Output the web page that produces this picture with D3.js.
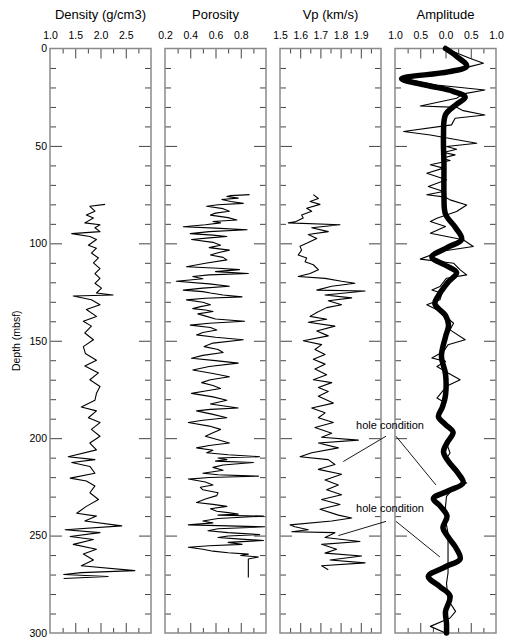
<!DOCTYPE html>
<html>
<head>
<meta charset="utf-8">
<title>Downhole logs and amplitude</title>
<script src="https://d3js.org/d3.v7.min.js"></script>
<style>
body { margin: 0; background: #fff; }
svg { display: block; font-family: "Liberation Sans", Arial, Helvetica, sans-serif; }
.frame { fill: none; stroke: #8a8a8a; stroke-width: 1.5; }
.ticks line { stroke: #444; stroke-width: 1; }
.log { fill: none; stroke: #000; stroke-width: 1.1; stroke-linejoin: round; }
.title { font-size: 13px; text-anchor: middle; }
.lbl text { font-size: 10.5px; fill: #000; }
</style>
</head>
<body>
<svg width="508" height="644"></svg>
<script>
// ---- data ----
var densityDepth = [80,81,83.5,85.5,87,89.5,90.5,92,94,95,96.5,98,101,102.5,105,107.5,110,113,115.5,118,120.5,123,125.5,126.5,127,129,131.5,134,137.5,140,142.5,146,149.5,153,156.5,160,163,166.5,170,173.5,177,180.5,184,186,189.5,192,195.5,199,202.5,206,209.5,211,212.5,214.5,218,220.5,222,224.5,228,231.5,235,238.5,240,242.5,245,247,248.5,250.5,252,254.5,257,259.5,262.5,265.5,268,269,270,271,272];
var densityValue = [2.09,1.79,1.89,1.72,1.86,1.69,1.99,1.89,1.99,1.43,1.79,1.92,1.76,1.92,1.82,1.96,1.86,1.99,1.89,1.99,1.89,2.02,1.92,2.25,1.46,1.82,1.99,1.72,1.92,1.66,1.82,1.69,1.86,1.66,1.70,1.92,1.69,1.96,1.79,1.99,1.92,1.89,1.62,1.92,1.76,1.99,1.82,1.99,1.79,1.92,1.36,1.89,1.43,1.79,1.89,1.40,1.72,1.89,1.79,1.96,1.72,1.53,1.92,1.69,2.42,1.30,1.99,1.40,1.86,1.46,1.92,1.66,1.86,1.62,2.68,1.62,1.27,2.15,1.27];

var porosityDepth = [75,75.5,76,76.8,77.5,78.5,79.5,80.2,81,82.2,83.5,84.5,85.5,86.8,88,88.8,89.5,90.5,91.5,92.2,93,94,95,95.8,96.5,97.2,98,99.5,101,102.2,103.5,104.8,106,107.2,108.5,110.2,112,112.8,113.5,114.5,115.5,116.2,117,118.2,119.5,120.8,122,123,124,124.8,125.5,126.5,127.5,128.2,129,130.2,131.5,132.5,133.5,134.2,135,136.2,137.5,138.8,140,141,142,143.2,144.5,145.8,147,148.2,149.5,151.2,153,154.5,156,157.5,159,160.2,161.5,163.2,165,166.8,168.5,170,171.5,173,174.5,175.8,177,178.8,180.5,182.5,184.5,185.2,186,187.8,189.5,190.8,192,193.8,195.5,197.2,199,200.8,202.5,203.8,205,206.2,207.5,208.5,209.5,210.2,211,211.8,212.5,213.8,215,216.5,218,218.8,219.5,220.2,221,222.5,224,225.2,226.5,228,229.5,231.2,233,234,235,236.2,237.5,238.2,239,239.5,240,241.2,242.5,243.5,244.5,245,245.5,246.5,247.5,248.5,249.5,250.2,251,251.8,252.5,253.5,254.5,255.2,256,257,258,258.8,259.5,260.2,261,262,271.5];
var porosityValue = [0.87,0.72,0.69,0.78,0.65,0.72,0.82,0.62,0.53,0.66,0.71,0.60,0.56,0.70,0.77,0.58,0.64,0.52,0.345,0.60,0.85,0.55,0.40,0.58,0.69,0.55,0.41,0.58,0.64,0.55,0.71,0.62,0.56,0.66,0.69,0.52,0.37,0.62,0.79,0.60,0.86,0.55,0.42,0.50,0.29,0.55,0.71,0.50,0.345,0.50,0.56,0.66,0.81,0.52,0.37,0.50,0.56,0.48,0.42,0.52,0.58,0.46,0.53,0.60,0.83,0.55,0.40,0.56,0.61,0.50,0.45,0.60,0.82,0.58,0.51,0.62,0.66,0.50,0.41,0.60,0.78,0.55,0.42,0.58,0.71,0.56,0.49,0.58,0.64,0.52,0.41,0.58,0.69,0.56,0.78,0.56,0.45,0.58,0.69,0.50,0.385,0.55,0.64,0.58,0.52,0.62,0.71,0.55,0.45,0.58,0.53,0.70,0.95,0.62,0.69,0.60,0.90,0.66,0.58,0.66,0.50,0.62,0.94,0.55,0.385,0.52,0.58,0.48,0.50,0.62,0.61,0.52,0.45,0.58,0.69,0.56,0.61,0.70,0.78,0.62,0.98,0.62,0.50,0.58,0.385,0.70,0.99,0.62,0.54,0.70,0.95,0.70,0.62,0.80,0.98,0.70,0.81,0.55,0.385,0.50,0.58,0.70,0.86,0.80,0.94,0.86,0.86];

var vpDepth = [75,77,78.5,80,82,83.5,85.5,87,89,89.5,90.5,92,94,95.5,97.5,100,101.5,103.5,106,107.5,109.5,111,113.5,115.5,117,118,119.5,120.5,122,124,124.5,126.5,128,129.5,131.5,133,135.5,137.5,139,140.5,142.5,145,147.5,150,152,154.5,157,159.5,162,164.5,167.5,170,171.5,174,176,178.5,182,184.5,187,189.5,192,194.5,197.5,199.5,201,202.5,205,207.5,209.5,211,213.5,216,218.5,221.5,224,226.5,229,231.5,234,236.5,239.5,241,242.5,244.5,245.5,247,248,248.5,251,253,254.5,257,259,260.5,262.5,264,265.5,267.5];
var vpValue = [1.665,1.69,1.649,1.698,1.632,1.657,1.607,1.615,1.574,1.541,1.797,1.657,1.739,1.64,1.682,1.632,1.599,1.607,1.59,1.632,1.624,1.665,1.69,1.649,1.59,1.723,1.805,1.871,1.756,1.682,1.921,1.723,1.855,1.739,1.805,1.731,1.682,1.649,1.731,1.64,1.772,1.682,1.739,1.615,1.706,1.673,1.723,1.665,1.723,1.673,1.731,1.665,1.756,1.69,1.739,1.69,1.764,1.657,1.723,1.69,1.764,1.673,1.756,1.706,1.888,1.69,1.789,1.657,1.599,1.739,1.772,1.69,1.805,1.723,1.789,1.731,1.805,1.706,1.797,1.698,1.789,1.855,1.756,1.55,1.574,1.64,1.558,1.772,1.723,1.896,1.706,1.78,1.723,1.904,1.748,1.921,1.706,1.739];

// measured amplitude (thin) and synthetic (thick)
var ampDepth = [0,5,7.6,9.3,11,15.3,18.7,21.3,23.3,25.5,29.5,30.2,31.9,34.1,35.8,39.2,42.6,44.4,48.6,50.3,51.7,53.4,54.6,56.3,57.5,59.7,61.4,64,67.4,70.8,73.4,75.1,76.3,77.7,80.3,83.7,87.1,88.8,91.4,94.8,98.2,101.6,104.2,108.1,110.2,113.6,116.2,117.9,122.2,123.9,125.6,129,131.5,134.1,137.5,141,144.4,149.5,152.1,155.5,158.9,160.6,163.2,166.6,170,173.4,179.4,182,185.4,188.8,193.1,197.4,202.5,207.6,211,216.2,221.3,223,224.7,229.9,235,241.9,248.7,258.9,269.2,274.4,282.9,288.9,292.3,296.6,300];
var ampValue = [0,0.48,0.75,0.48,0.32,-0.87,-0.18,0.78,0.35,0.22,-0.5,0.22,0.35,0.78,0.19,0.12,-0.83,-0.30,0.62,0.02,0.22,-0.04,0.19,-0.07,0.09,-0.30,-0.04,-0.37,0.02,-0.34,-0.04,-0.37,0,0.09,0.42,0.22,-0.17,-0.30,0,-0.30,0.35,0.55,-0.11,-0.5,0.16,0.29,0.42,0.02,-0.11,-0.27,-0.07,-0.11,-0.37,-0.17,0,0.16,0.09,0.39,0.05,-0.04,-0.27,0,-0.17,0.05,0.29,0.02,-0.17,0,-0.07,-0.14,0,0.16,0.02,0.09,0,0.16,0.29,0.42,0.19,0.02,0,0,0.05,0.05,0.05,0.02,0.05,0.2,0.09,-0.3,0];

var synthDepth = [0,4,9,12,15.5,19,22,25,29,34,45,60,75,85,92,98,102,107,111,115,120,126,131,137,142,148,158,167,178,184,189,193,197,202,207,212,218,223,227,231,235,240,246,251,256,262,266,271,276,281,289,295,300];
var synthValue = [0,0.22,0.42,0.05,-0.87,-0.35,0.15,0.39,0.2,0,-0.04,-0.03,-0.03,0,0.2,0.32,0.05,-0.27,-0.02,0.22,0.05,-0.12,-0.21,0,0.06,0,-0.08,0,0,-0.06,-0.14,0,0.15,0.04,-0.04,0.06,0.25,0.35,0.06,-0.24,-0.1,0.03,-0.05,0.06,0.2,0.29,0,-0.34,-0.12,0.09,0,0.02,0.02];

var depthLabels = [0, 50, 100, 150, 200, 250, 300];
var densityLabels = [1.0, 1.5, 2.0, 2.5];
var porosityLabels = [0.2, 0.4, 0.6, 0.8];
var vpLabels = [1.5, 1.6, 1.7, 1.8, 1.9];
var ampLabels = [-1, -0.5, 0, 0.5, 1];

// "hole condition" notes: where the leaders point (value, depth) in Vp and amplitude panels
var notes = [
  {text: "hole condition", depth: 195.5, from: 199,   vp: [1.813, 212], amp: [-0.19, 224]},
  {text: "hole condition", depth: 238,   from: 242.7, vp: [1.789, 250], amp: [-0.11, 261]}
];

var svg = d3.select("svg");
var yTop = 48.5, yBot = 633;

var y = d3.scaleLinear().domain([0, 300]).range([yTop, yBot]);

var panels = [
  {title: "Density (g/cm3)", x0: 50,  x1: 151, domain: [1, 3],    step: 0.25, labels: densityLabels,  fmt: d3.format(".1f")},
  {title: "Porosity",        x0: 165, x1: 266, domain: [0.2, 1],  step: 0.1,  labels: porosityLabels, fmt: d3.format(".1f")},
  {title: "Vp (km/s)",       x0: 280, x1: 381, domain: [1.5, 2],  step: 0.05, labels: vpLabels,       fmt: d3.format(".1f")},
  {title: "Amplitude",       x0: 395, x1: 496, domain: [-1, 1],   step: 0.25, labels: ampLabels,      fmt: function(d) { return d3.format(".1f")(Math.abs(d)); }}
];
panels.forEach(function(p) {
  p.x = d3.scaleLinear().domain(p.domain).range([p.x0, p.x1]);
});

var depthMinor = d3.range(10, 300, 10).filter(function(d) { return d % 50 != 0; });
var depthMajor = [50, 100, 150, 200, 250];

function ticks(g, axis, values, size) {
  g.attr("class", "ticks")
    .call(axis.tickValues(values).tickSize(size).tickFormat(""))
    .call(function(s) { s.select(".domain").remove(); });
}

panels.forEach(function(p) {
  var n = Math.round((p.domain[1] - p.domain[0]) / p.step);
  var inner = d3.range(1, n).map(function(i) { return +(p.domain[0] + i * p.step).toFixed(3); });
  var major = inner.filter(function(v) { return p.labels.some(function(l) { return Math.abs(l - v) < 1e-6; }); });
  var minor = inner.filter(function(v) { return major.indexOf(v) < 0; });

  // depth ticks on both sides, pointing in
  ticks(svg.append("g").attr("transform", "translate(" + p.x0 + ",0)"), d3.axisRight(y), depthMinor, 6);
  ticks(svg.append("g").attr("transform", "translate(" + p.x0 + ",0)"), d3.axisRight(y), depthMajor, 12);
  ticks(svg.append("g").attr("transform", "translate(" + p.x1 + ",0)"), d3.axisLeft(y), depthMinor, 6);
  ticks(svg.append("g").attr("transform", "translate(" + p.x1 + ",0)"), d3.axisLeft(y), depthMajor, 12);

  // value ticks top and bottom
  ticks(svg.append("g").attr("transform", "translate(0," + yTop + ")"), d3.axisBottom(p.x), minor, 5);
  ticks(svg.append("g").attr("transform", "translate(0," + yTop + ")"), d3.axisBottom(p.x), major, 10);
  ticks(svg.append("g").attr("transform", "translate(0," + yBot + ")"), d3.axisTop(p.x), minor, 5);
  ticks(svg.append("g").attr("transform", "translate(0," + yBot + ")"), d3.axisTop(p.x), major, 10);

  // value labels
  var lab = svg.append("g").attr("class", "lbl")
    .attr("transform", "translate(0," + yTop + ")")
    .call(d3.axisTop(p.x).tickValues(p.labels).tickSize(0).tickPadding(10).tickFormat(p.fmt));
  lab.select(".domain").remove();
  lab.attr("font-size", null).attr("font-family", null);

  svg.append("rect").attr("class", "frame")
    .attr("x", p.x0).attr("y", yTop)
    .attr("width", p.x1 - p.x0).attr("height", yBot - yTop);

  svg.append("text").attr("class", "title")
    .attr("x", (p.x0 + p.x1) / 2).attr("y", 19)
    .text(p.title);
});

// depth labels
var dl = svg.append("g").attr("class", "lbl")
  .attr("transform", "translate(" + panels[0].x0 + ",0)")
  .call(d3.axisLeft(y).tickValues(depthLabels).tickSize(0).tickPadding(3));
dl.select(".domain").remove();
dl.attr("font-size", null).attr("font-family", null);

svg.append("text")
  .attr("transform", "translate(20," + y(150) + ") rotate(-90)")
  .attr("text-anchor", "middle")
  .attr("font-size", "10.5px")
  .text("Depth (mbsf)");

function logLine(p, depths, values) {
  return d3.line()
    .x(function(d, i) { return p.x(values[i]); })
    .y(function(d) { return y(d); })(depths);
}

svg.append("path").attr("class", "log").attr("d", logLine(panels[0], densityDepth, densityValue));
svg.append("path").attr("class", "log").attr("d", logLine(panels[1], porosityDepth, porosityValue));
svg.append("path").attr("class", "log").attr("d", logLine(panels[2], vpDepth, vpValue));
svg.append("path").attr("class", "log").attr("stroke-width", 0.8).attr("d", logLine(panels[3], ampDepth, ampValue));

var amp = panels[3];
svg.append("path")
  .attr("fill", "none").attr("stroke", "#000").attr("stroke-width", 5.5).attr("stroke-linecap", "round")
  .attr("d", d3.line()
    .curve(d3.curveCatmullRom)
    .x(function(d, i) { return amp.x(synthValue[i]); })
    .y(function(d) { return y(d); })(synthDepth));

// annotations
var gapX = (panels[2].x1 + panels[3].x0) / 2;
notes.forEach(function(n) {
  svg.append("line")
    .attr("x1", gapX - 2).attr("y1", y(n.from))
    .attr("x2", panels[2].x(n.vp[0])).attr("y2", y(n.vp[1]))
    .attr("stroke", "#000").attr("stroke-width", 0.9);
  svg.append("line")
    .attr("x1", gapX + 8).attr("y1", y(n.from))
    .attr("x2", amp.x(n.amp[0])).attr("y2", y(n.amp[1]))
    .attr("stroke", "#000").attr("stroke-width", 0.9);
  svg.append("text")
    .attr("x", gapX + 2).attr("y", y(n.depth))
    .attr("text-anchor", "middle")
    .attr("font-size", "11px")
    .text(n.text);
});
</script>
</body>
</html>
